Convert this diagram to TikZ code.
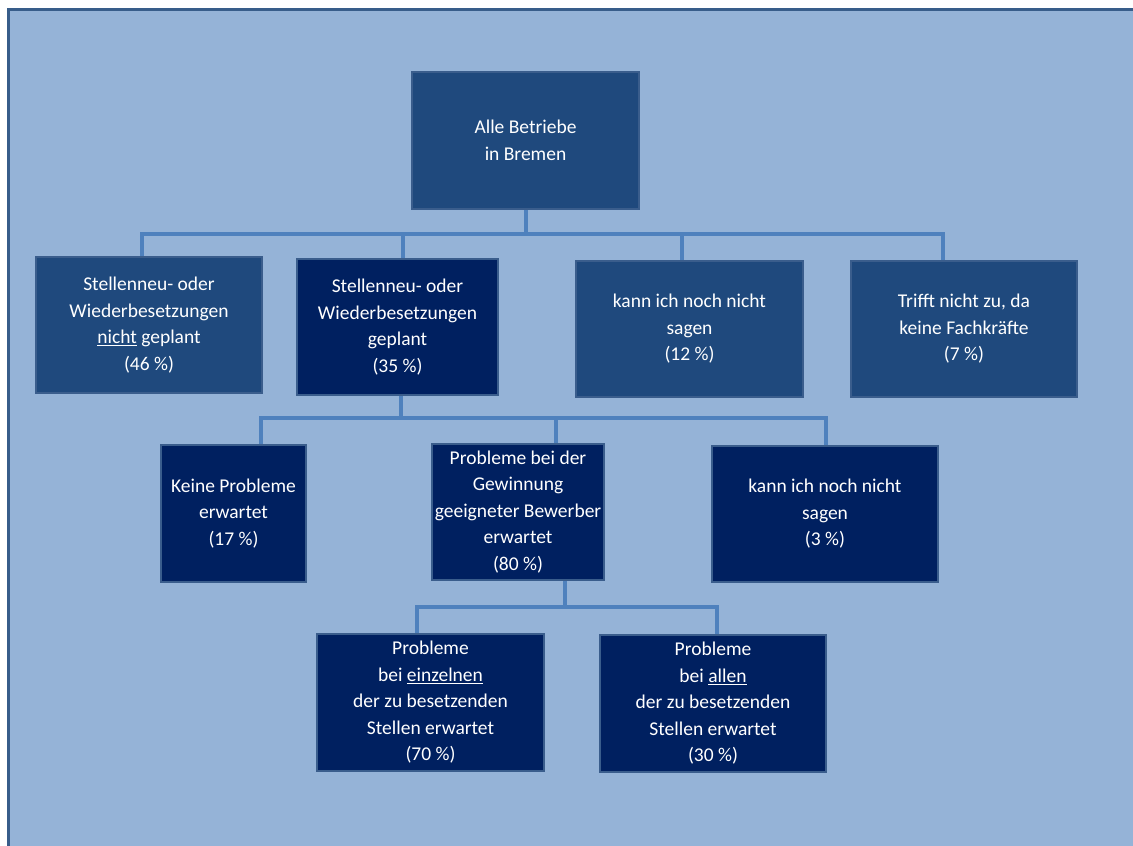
\documentclass[tikz,border=0pt]{standalone}
\usepackage{fontspec}
\setmainfont{Carlito}
\usetikzlibrary{positioning, calc}
\definecolor{bgblue}{HTML}{95B3D7}
\definecolor{midblue}{HTML}{1F497D}
\definecolor{navyblue}{HTML}{002060}
\definecolor{edgeblue}{HTML}{3A5D8C}
\definecolor{linkblue}{HTML}{4F81BD}
\definecolor{frameblue}{HTML}{385D8A}

\begin{document}
\begin{tikzpicture}[x=1pt, y=-1pt,
  obox/.style={draw=edgeblue, line width=2pt, fill=midblue, text=white, align=center, inner sep=0pt, font=\fontsize{19.5}{26.5}\selectfont},
  nbox/.style={obox, fill=navyblue},
  link/.style={draw=linkblue, line width=4pt}
]
  \useasboundingbox (0,0) rectangle (1133,846);
  \fill[bgblue] (8,9) rectangle (1133,846);
  \draw[frameblue, line width=3pt] (8.5,846) -- (8.5,9.5) -- (1133,9.5);

  % boxes
  \node[obox, minimum width=227, minimum height=137] (top) at (525.5,140.5) {Alle Betriebe\\in Bremen};

  \node[obox, minimum width=226, minimum height=136] (A) at (149,325) {Stellenneu- oder\\Wiederbesetzungen\\\underline{nicht} geplant\\(46~\%)};
  \node[nbox, minimum width=201, minimum height=136] (B) at (397.5,327) {Stellenneu- oder\\Wiederbesetzungen\\geplant\\(35~\%)};
  \node[obox, minimum width=227, minimum height=136] (C) at (689.5,329) {kann ich noch nicht\\sagen\\(12~\%)};
  \node[obox, minimum width=226, minimum height=136] (D) at (964,329) {Trifft nicht zu, da\\keine Fachkräfte\\(7~\%)};

  \node[nbox, minimum width=145, minimum height=137] (E) at (233.5,513.5) {Keine Probleme\\erwartet\\(17~\%)};
  \node[nbox, minimum width=172, minimum height=136] (F) at (518,512) {Probleme bei der\\Gewinnung\\geeigneter Bewerber\\erwartet\\(80~\%)};
  \node[nbox, minimum width=226, minimum height=136] (G) at (825,514) {kann ich noch nicht\\sagen\\(3~\%)};

  \node[nbox, minimum width=227, minimum height=137] (H) at (430.5,702.5) {Probleme\\bei \underline{einzelnen}\\der zu besetzenden\\Stellen erwartet\\(70~\%)};
  \node[nbox, minimum width=226, minimum height=137] (I) at (713,703.5) {Probleme\\bei \underline{allen}\\der zu besetzenden\\Stellen erwartet\\(30~\%)};

  % connectors
  \coordinate (bus1) at (0,234);
  \coordinate (bus2) at (0,418);
  \coordinate (bus3) at (0,607);
  \coordinate (dA) at ([xshift=-7]A.north);
  \coordinate (dB) at ([xshift=5.5]B.north);
  \coordinate (dC) at ([xshift=-7.5]C.north);
  \coordinate (dD) at ([xshift=-21]D.north);
  \coordinate (uB) at ([xshift=3.5]B.south);
  \coordinate (dE) at ([xshift=27.5]E.north);
  \coordinate (dF) at ([xshift=38]F.north);
  \coordinate (dG) at ([xshift=1]G.north);
  \coordinate (uF) at ([xshift=47]F.south);
  \coordinate (dH) at ([xshift=-13.5]H.north);
  \coordinate (dI) at ([xshift=4]I.north);

  \draw[link] (top.south) -- (top.south |- bus1);
  \draw[link] (dA) -- (dA |- bus1) -- (dD |- bus1) -- (dD);
  \draw[link] (dB) -- (dB |- bus1);
  \draw[link] (dC) -- (dC |- bus1);

  \draw[link] (uB) -- (uB |- bus2);
  \draw[link] (dE) -- (dE |- bus2) -- (dG |- bus2) -- (dG);
  \draw[link] (dF) -- (dF |- bus2);

  \draw[link] (uF) -- (uF |- bus3);
  \draw[link] (dH) -- (dH |- bus3) -- (dI |- bus3) -- (dI);
\end{tikzpicture}
\end{document}
